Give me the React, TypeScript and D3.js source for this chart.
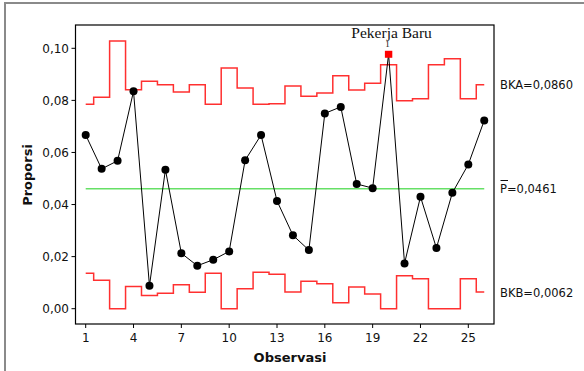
import React from "react";
import * as d3 from "d3";

const observations = d3.range(1, 27);
const proportions = [0.0667, 0.0537, 0.0568, 0.0835, 0.0088, 0.0534, 0.0213, 0.0165, 0.0188, 0.022, 0.057, 0.0667, 0.0414, 0.0282, 0.0225, 0.075, 0.0775, 0.0479, 0.0463, 0.0977, 0.0174, 0.043, 0.0233, 0.0445, 0.0554, 0.0723];
const ucl = [0.0785, 0.0812, 0.1028, 0.0841, 0.0873, 0.086, 0.0832, 0.086, 0.0785, 0.0924, 0.0848, 0.0785, 0.0787, 0.0855, 0.0816, 0.0828, 0.0895, 0.084, 0.0866, 0.0937, 0.0799, 0.0806, 0.0937, 0.096, 0.0806, 0.086];
const lcl = [0.0136, 0.0109, 0, 0.0085, 0.0051, 0.0059, 0.0092, 0.0063, 0.0136, 0, 0.0077, 0.014, 0.0132, 0.0064, 0.0105, 0.0096, 0.0023, 0.0083, 0.0056, 0, 0.0127, 0.0115, 0, 0, 0.0115, 0.0064];
const centerLine = 0.0461;
const yTicks = [0, 0.02, 0.04, 0.06, 0.08, 0.1];
const xTicks = [1, 4, 7, 10, 13, 16, 19, 22, 25];
const outOfControl = [20];

const fmt = (v: number, d: number) => v.toFixed(d).replace(".", ",");

export default function App() {
  const W = 584, H = 371;
  const plot = { left: 75.5, right: 494, top: 25, bottom: 324 };
  const x = d3.scaleLinear().domain([1, 25]).range([85.7, 468.3]);
  const y = d3.scaleLinear().domain([0, 0.1]).range([308.7, 48.3]);
  const sans = "DejaVu Sans, Verdana, sans-serif";

  const stepPath = (vals: number[]) => {
    const pts: [number, number][] = [];
    vals.forEach((v, i) => {
      const o = observations[i];
      const x0 = i === 0 ? o : o - 0.5;
      const x1 = i === vals.length - 1 ? o : o + 0.5;
      pts.push([x(x0), y(v)], [x(x1), y(v)]);
    });
    return d3.line()(pts) as string;
  };

  const dataLine = d3.line<number>().x((_, i) => x(observations[i])).y((d) => y(d))(proportions) as string;
  const first = observations[0], last = observations[observations.length - 1];

  return (
    <svg width={W} height={H} style={{ position: "absolute", left: 0, top: 0, background: "#fff" }}>
      <rect x={5} y={3} width={W + 20} height={H + 20} fill="none" stroke="#8a8a8a" strokeWidth={2} />
      <rect x={plot.left} y={plot.top} width={plot.right - plot.left} height={plot.bottom - plot.top} fill="none" stroke="#000" strokeWidth={1.2} />
      {yTicks.map((t) => (
        <g key={t}>
          <line x1={plot.left - 4} x2={plot.left} y1={y(t)} y2={y(t)} stroke="#000" />
          <text x={69} y={y(t) + 4.5} textAnchor="end" fontFamily={sans} fontSize={12} fill="#111">{fmt(t, 2)}</text>
        </g>
      ))}
      {xTicks.map((t) => (
        <g key={t}>
          <line x1={x(t)} x2={x(t)} y1={plot.bottom} y2={plot.bottom + 4} stroke="#000" />
          <text x={x(t)} y={342} textAnchor="middle" fontFamily={sans} fontSize={12} fill="#111">{t}</text>
        </g>
      ))}
      <text x={290} y={362} textAnchor="middle" fontFamily={sans} fontSize={13} fontWeight="bold" fill="#111">Observasi</text>
      <text transform={`translate(32,175) rotate(-90)`} textAnchor="middle" fontFamily={sans} fontSize={13} fontWeight="bold" fill="#111">Proporsi</text>

      <path d={stepPath(ucl)} fill="none" stroke="#ff3030" strokeWidth={1.5} />
      <path d={stepPath(lcl)} fill="none" stroke="#ff3030" strokeWidth={1.5} />
      <line x1={x(first)} x2={x(last)} y1={y(centerLine)} y2={y(centerLine)} stroke="#66e066" strokeWidth={1.5} />

      <path d={dataLine} fill="none" stroke="#000" strokeWidth={1} />
      {proportions.map((p, i) =>
        outOfControl.includes(observations[i]) ? (
          <rect key={i} x={x(observations[i]) - 3.7} y={y(p) - 3.5} width={7.4} height={7} fill="#ff0000" />
        ) : (
          <circle key={i} cx={x(observations[i])} cy={y(p)} r={4} fill="#000" />
        )
      )}
      {outOfControl.map((o) => (
        <g key={o}>
          <text x={x(o) - 1} y={y(proportions[o - 1]) - 7} textAnchor="middle" fontFamily="Liberation Serif, serif" fontSize={9} fill="#111">1</text>
          <text x={x(o) + 3} y={38} textAnchor="middle" fontFamily="Liberation Serif, serif" fontSize={15.5} fill="#111">Pekerja Baru</text>
        </g>
      ))}

      <text x={500} y={89} fontFamily={sans} fontSize={11.5} fill="#111">{`BKA=${fmt(ucl[ucl.length - 1], 4)}`}</text>
      <text x={500} y={193} fontFamily={sans} fontSize={11.5} fill="#111">{`P=${fmt(centerLine, 4)}`}</text>
      <line x1={500.5} x2={508} y1={180.5} y2={180.5} stroke="#111" strokeWidth={1} />
      <text x={500} y={297} fontFamily={sans} fontSize={11.5} fill="#111">{`BKB=0,0062`}</text>
    </svg>
  );
}
